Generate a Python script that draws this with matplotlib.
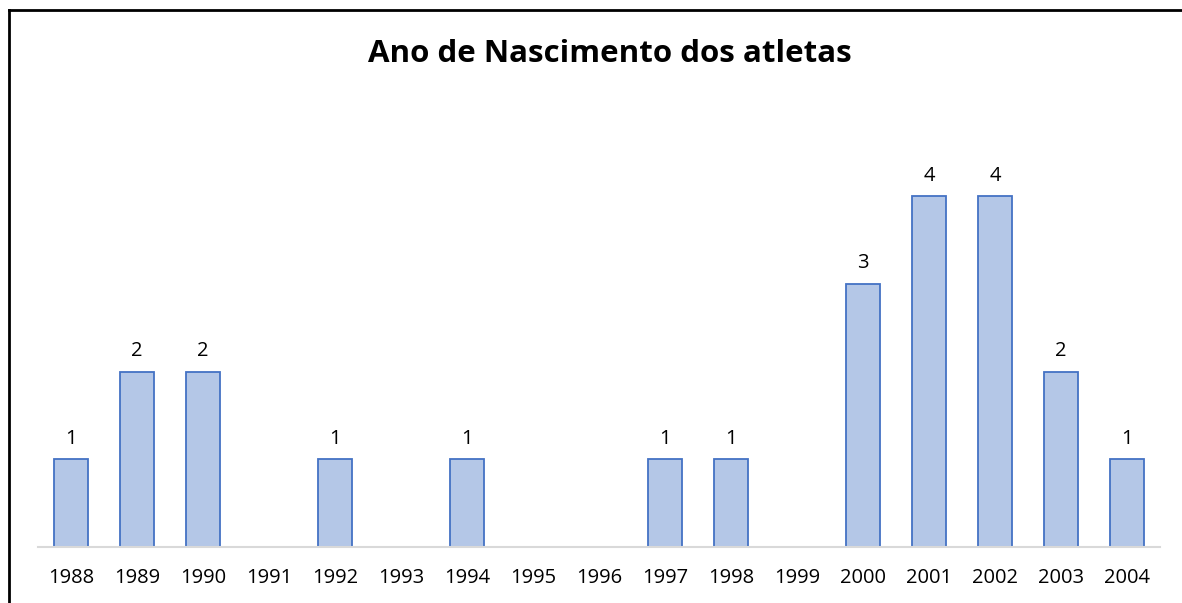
import matplotlib

matplotlib.use("Agg")
import matplotlib.pyplot as plt
from matplotlib.lines import Line2D

years = ["1988", "1989", "1990", "1991", "1992", "1993", "1994", "1995", "1996",
         "1997", "1998", "1999", "2000", "2001", "2002", "2003", "2004"]
counts = [1, 2, 2, 0, 1, 0, 1, 0, 0, 1, 1, 0, 3, 4, 4, 2, 1]

plt.rcParams["font.family"] = ["Open Sans", "DejaVu Sans"]

W, H = 1182, 603
fig = plt.figure(figsize=(W / 100, H / 100), dpi=100)
ax = fig.add_axes([38 / W, 1 - 547 / H, 1122 / W, (547 - 108.5) / H])

x = list(range(len(years)))
bars = ax.bar(x, counts, width=0.51, color="#B4C7E7", edgecolor="#4472C4", linewidth=1.3, zorder=2)
for xi, c in zip(x, counts):
    if c > 0:
        ax.text(xi, c + 0.12, str(c), ha="center", va="bottom", fontsize=14.5, color="#000000")

ax.set_xlim(-0.5, len(years) - 0.5)
ax.set_ylim(0, 5)
ax.set_xticks(x)
ax.set_xticklabels(years, fontsize=14.5)
ax.tick_params(axis="x", length=0, pad=15)
ax.set_yticks([])
for s in ("top", "right", "left"):
    ax.spines[s].set_visible(False)
ax.spines["bottom"].set_color("#D9D9D9")
ax.spines["bottom"].set_linewidth(1.5)
ax.spines["bottom"].set_zorder(3)

fig.text(610 / W, 1 - 54 / H, "Ano de Nascimento dos atletas", ha="center", va="center",
         fontsize=22.5, fontweight="bold")

# outer chart border (top and left edges visible)
bx, by = 9.5 / W, 1 - 10 / H
fig.add_artist(Line2D([bx, 1], [by, by], color="black", linewidth=2, transform=fig.transFigure))
fig.add_artist(Line2D([bx, bx], [0, by], color="black", linewidth=2, transform=fig.transFigure))

fig.savefig("out.png", dpi=100)
